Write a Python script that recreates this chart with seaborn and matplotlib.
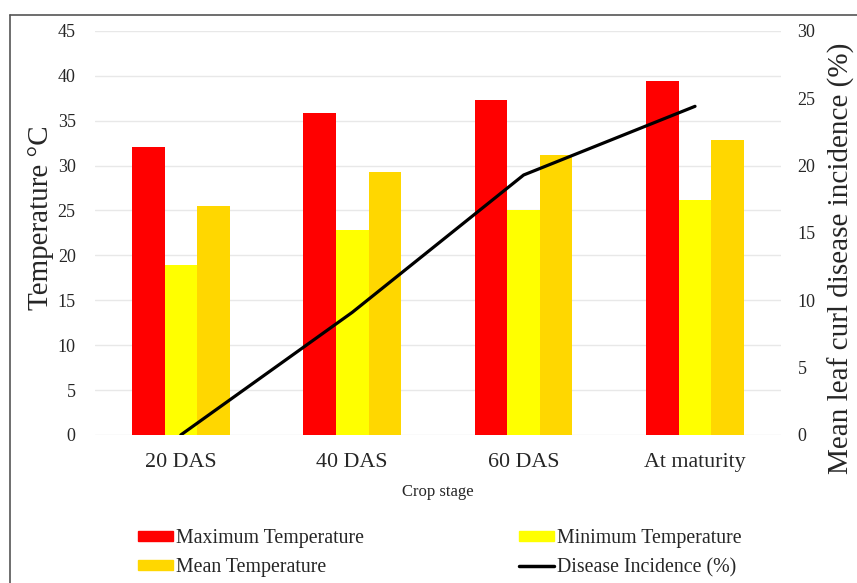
#!/usr/bin/env python3
"""Temperature by crop stage with leaf curl disease incidence on a second axis."""

import matplotlib

matplotlib.use("Agg")
import matplotlib.pyplot as plt
import pandas as pd
import seaborn as sns
from matplotlib.lines import Line2D

STAGES = ["20 DAS", "40 DAS", "60 DAS", "At maturity"]
MAX_TEMP = [32.1, 35.9, 37.3, 39.4]
MIN_TEMP = [18.9, 22.8, 25.1, 26.2]
MEAN_TEMP = [25.5, 29.3, 31.2, 32.8]
INCIDENCE = [0.0, 9.1, 19.3, 24.4]

SERIES = ["Maximum Temperature", "Minimum Temperature", "Mean Temperature"]
COLOURS = ["#ff0000", "#ffff00", "#ffd700"]


def main() -> None:
    sns.set_style("white")
    plt.rcParams["font.family"] = ["Liberation Serif", "DejaVu Serif"]

    temps = pd.DataFrame(
        {
            "stage": STAGES * 3,
            "temp": MAX_TEMP + MIN_TEMP + MEAN_TEMP,
            "series": [s for s in SERIES for _ in STAGES],
        }
    )

    fig = plt.figure(figsize=(8.57, 5.83), dpi=100)
    ax = fig.add_axes([0.111, 0.254, 0.8, 0.693])
    sns.barplot(
        data=temps,
        x="stage",
        y="temp",
        hue="series",
        palette=COLOURS,
        width=0.57,
        saturation=1,
        linewidth=0,
        ax=ax,
        legend=False,
    )
    ax.set_ylim(0, 45)
    ax.set_yticks(range(0, 46, 5))
    ax.set_xlim(-0.5, 3.5)
    ax.grid(axis="y", color="#e8e8e8", linewidth=1)
    ax.set_axisbelow(True)
    sns.despine(ax=ax, left=True, bottom=True)
    ax.tick_params(axis="y", length=0, pad=14, labelsize=13)
    ax.tick_params(axis="x", length=0, pad=13, labelsize=15.8)
    ax.set_xlabel("Crop stage", fontsize=12, labelpad=9)
    ax.set_ylabel("Temperature °C", fontsize=21)
    ax.yaxis.set_label_coords(-0.06, 0.537)

    ax2 = ax.twinx()
    sns.lineplot(x=STAGES, y=INCIDENCE, color="black", linewidth=2.3, sort=False, ax=ax2)
    ax2.set_ylim(0, 30)
    ax2.set_yticks(range(0, 31, 5))
    sns.despine(ax=ax2, left=True, bottom=True, right=True)
    ax2.tick_params(axis="y", length=0, pad=12, labelsize=13)
    ax2.set_ylabel("Mean leaf curl disease incidence (%)", fontsize=21)
    ax2.yaxis.set_label_coords(1.068, 0.436)

    handles = [
        plt.Rectangle((0, 0), 1, 1, color=COLOURS[0]),
        plt.Rectangle((0, 0), 1, 1, color=COLOURS[2]),
        plt.Rectangle((0, 0), 1, 1, color=COLOURS[1]),
        Line2D([0], [0], color="black", linewidth=2.5),
    ]
    labels = [SERIES[0], SERIES[2], SERIES[1], "Disease Incidence (%)"]
    fig.legend(
        handles,
        labels,
        ncol=2,
        loc="center",
        bbox_to_anchor=(0.513, 0.051),
        frameon=False,
        fontsize=14.3,
        handlelength=1.76,
        handleheight=0.4,
        handletextpad=0.15,
        columnspacing=7.8,
        labelspacing=0.5,
    )

    # outer chart frame (top and left edges visible)
    fig.add_artist(Line2D([10 / 857, 1], [1 - 15 / 583] * 2, color="#555555", lw=1.2))
    fig.add_artist(Line2D([10 / 857] * 2, [0, 1 - 15 / 583], color="#555555", lw=1.2))

    fig.savefig("out.png", dpi=100)


if __name__ == "__main__":
    main()
